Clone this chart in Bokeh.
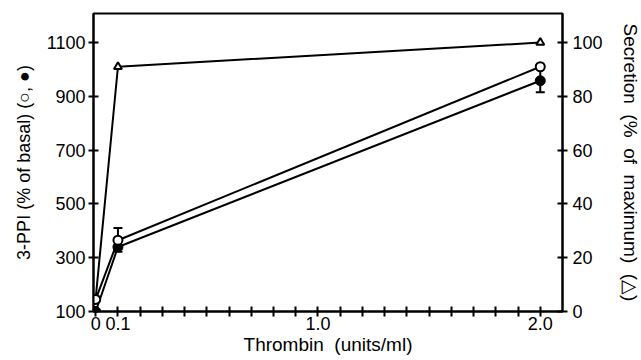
from bokeh.plotting import figure
from bokeh.models import Range1d, LinearAxis, FixedTicker, ColumnDataSource, Whisker, TeeHead
from bokeh.embed import file_html
from bokeh.resources import INLINE

# data
dose = [0.0, 0.1, 2.0]
ppi_open = [145, 365, 1010]
ppi_open_upper = [145, 410, 1010]
ppi_filled = [100, 340, 958]
ppi_filled_lower = [100, 322, 915]
ppi_filled_upper = [100, 340, 1000]
secretion = [5, 91, 100]

x_ticks = [round(i * 0.1, 1) for i in range(21)]
x_labels = {0.0: "0", 0.1: "0.1", 1.0: "1.0", 2.0: "2.0"}
y_ticks = [100, 300, 500, 700, 900, 1100]
y2_ticks = [0, 20, 40, 60, 80, 100]

FONT = "Liberation Sans"
S = " \u00a0"

p = figure(frame_width=469, frame_height=298, output_backend="svg", toolbar_location=None,
           x_range=Range1d(-0.01, 2.1), y_range=Range1d(100, 1208),
           min_border_left=93, min_border_right=78, min_border_top=13, min_border_bottom=48)
p.extra_y_ranges = {"sec": Range1d(0, 110.8)}
p.grid.visible = False
p.outline_line_color = "black"
p.outline_line_width = 2
p.background_fill_color = "white"
p.border_fill_color = "white"

xa = p.xaxis[0]
xa.ticker = FixedTicker(ticks=x_ticks)
xa.major_label_overrides = {t: x_labels.get(t, "") for t in x_ticks}
xa.axis_label = "Thrombin" + S + "(units/ml)"

ya = p.yaxis[0]
ya.ticker = FixedTicker(ticks=y_ticks)
ya.axis_label = "3-PPI (% of basal) (\u25CB, \u25CF)"

y2 = LinearAxis(y_range_name="sec", ticker=FixedTicker(ticks=y2_ticks),
                axis_label="Secretion" + S + "(%" + S + "of" + S + "maximum)" + S + "(\u25B3)")
p.add_layout(y2, "right")

for ax in [xa, ya, y2]:
    ax.axis_line_width = 2
    ax.axis_line_color = "black"
    ax.major_tick_line_width = 2
    ax.major_tick_line_color = "black"
    ax.major_tick_in = 5
    ax.major_tick_out = 5
    ax.minor_tick_line_color = None
    ax.major_label_text_font = FONT
    ax.major_label_text_font_size = "18px"
    ax.major_label_text_color = "black"
    ax.axis_label_text_font = FONT
    ax.axis_label_text_font_style = "normal"
    ax.axis_label_text_color = "black"
xa.axis_label_text_font_size = "19px"
ya.axis_label_text_font_size = "18px"
y2.axis_label_text_font_size = "19px"
xa.major_label_standoff = 0
xa.axis_label_standoff = 1
ya.major_label_standoff = 3
y2.major_label_standoff = 5
ya.axis_label_standoff = 10
y2.axis_label_standoff = 14

# error bars
src_o = ColumnDataSource(dict(x=dose, lo=ppi_open, hi=ppi_open_upper))
p.add_layout(Whisker(source=src_o, base="x", lower="lo", upper="hi", line_width=2,
                     upper_head=TeeHead(size=9, line_width=2), lower_head=None))
src_f = ColumnDataSource(dict(x=dose, lo=ppi_filled_lower, hi=ppi_filled_upper))
p.add_layout(Whisker(source=src_f, base="x", lower="lo", upper="hi", line_width=2,
                     lower_head=TeeHead(size=9, line_width=2), upper_head=None))

# lines
p.line(dose, secretion, y_range_name="sec", line_color="black", line_width=2)
p.line(dose, ppi_open, line_color="black", line_width=2)
p.line(dose, ppi_filled, line_color="black", line_width=2)

# markers
p.scatter(dose[1:], secretion[1:], y_range_name="sec", marker="triangle", size=8,
          fill_color="white", line_color="black", line_width=2)
p.scatter(dose, ppi_filled, marker="circle", size=10, fill_color="black", line_color="black")
p.scatter(dose, ppi_open, marker="circle", size=9, fill_color="white", line_color="black", line_width=2)

open("out.html", "w").write(file_html(p, INLINE))
